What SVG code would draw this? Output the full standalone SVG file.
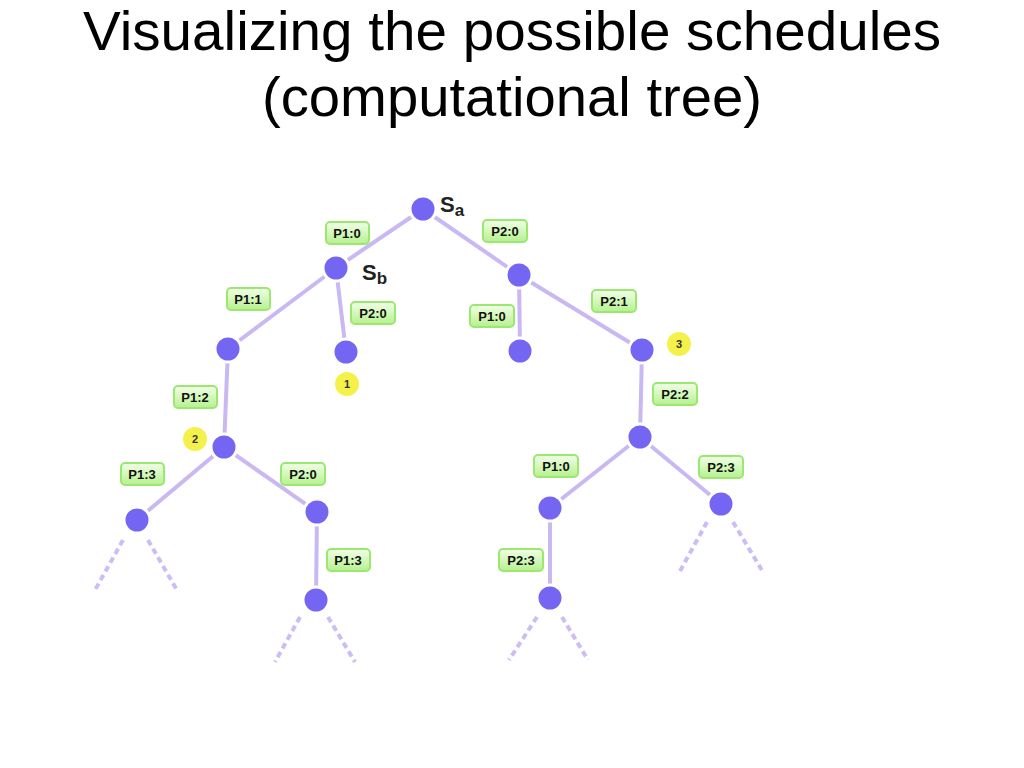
<svg xmlns="http://www.w3.org/2000/svg" width="1024" height="768" viewBox="0 0 1024 768">
<defs>
<linearGradient id="lg" x1="0" y1="0" x2="0" y2="1">
<stop offset="0" stop-color="#f2ffe8"/>
<stop offset="1" stop-color="#b6f08e"/>
</linearGradient>
</defs>
<style>
.title{font-family:"Liberation Sans",Arial,sans-serif;font-size:55px;fill:#000}
.edge{stroke:#c9b8f2;stroke-width:4;fill:none;stroke-linecap:butt}
.dash{stroke:#cdbdf4;stroke-width:4;fill:none;stroke-dasharray:6 4}
.node{fill:#7466f2;stroke:#fff;stroke-width:3}
.lbl rect{fill:url(#lg);stroke:#9ae870;stroke-width:2}
.lbl text{font-family:"Liberation Sans",Arial,sans-serif;font-size:13px;font-weight:bold;fill:#111;text-anchor:middle}
.mark circle{fill:#f4f24a}
.mark text{font-family:"Liberation Sans",Arial,sans-serif;font-size:11px;font-weight:bold;fill:#333;text-anchor:middle}
.st{font-family:"Liberation Sans",Arial,sans-serif;font-weight:bold;fill:#222}
</style>
<rect width="1024" height="768" fill="#fff"/>
<text class="title" x="512" y="50" text-anchor="middle" textLength="858" lengthAdjust="spacingAndGlyphs">Visualizing the possible schedules</text>
<text class="title" x="512" y="116" text-anchor="middle" textLength="500" lengthAdjust="spacingAndGlyphs">(computational tree)</text>

<g id="connectors">
<line class="edge" x1="423" y1="209" x2="336" y2="268"/>
<line class="edge" x1="423" y1="209" x2="519" y2="275"/>
<line class="edge" x1="336" y1="268" x2="228" y2="349"/>
<line class="edge" x1="336" y1="268" x2="346" y2="352"/>
<line class="edge" x1="228" y1="349" x2="224" y2="447"/>
<line class="edge" x1="224" y1="447" x2="137" y2="520"/>
<line class="edge" x1="224" y1="447" x2="317" y2="512"/>
<line class="edge" x1="317" y1="512" x2="316" y2="600"/>
<line class="edge" x1="519" y1="275" x2="520" y2="351"/>
<line class="edge" x1="519" y1="275" x2="642" y2="350"/>
<line class="edge" x1="642" y1="350" x2="640" y2="437"/>
<line class="edge" x1="640" y1="437" x2="550" y2="508"/>
<line class="edge" x1="640" y1="437" x2="721" y2="504"/>
<line class="edge" x1="550" y1="508" x2="550" y2="598"/>
<line class="dash" x1="123" y1="540" x2="95" y2="590"/>
<line class="dash" x1="148" y1="540" x2="178" y2="592"/>
<line class="dash" x1="300" y1="617" x2="275" y2="662"/>
<line class="dash" x1="328" y1="617" x2="355" y2="662"/>
<line class="dash" x1="707" y1="522" x2="679" y2="573"/>
<line class="dash" x1="733" y1="522" x2="763" y2="572"/>
<line class="dash" x1="537" y1="617" x2="509" y2="660"/>
<line class="dash" x1="562" y1="617" x2="588" y2="660"/>
</g>

<g id="nodeSa"><circle class="node" cx="423" cy="209" r="13"/><text class="st" x="440" y="212" font-size="22">S<tspan font-size="17" dy="4">a</tspan></text></g>
<g id="nodeSb"><circle class="node" cx="336" cy="268" r="13"/><text class="st" x="362" y="280" font-size="22">S<tspan font-size="17" dy="4">b</tspan></text></g>
<g id="nodeR"><circle class="node" cx="519" cy="275" r="13"/></g>
<g id="nodeL1"><circle class="node" cx="228" cy="349" r="13"/></g>
<g id="nodeB"><circle class="node" cx="346" cy="352" r="13"/></g>
<g id="nodeL2"><circle class="node" cx="224" cy="447" r="13"/></g>
<g id="nodeL3"><circle class="node" cx="137" cy="520" r="13"/></g>
<g id="nodeL4"><circle class="node" cx="317" cy="512" r="13"/></g>
<g id="nodeL5"><circle class="node" cx="316" cy="600" r="13"/></g>
<g id="nodeR1"><circle class="node" cx="520" cy="351" r="13"/></g>
<g id="nodeR2"><circle class="node" cx="642" cy="350" r="13"/></g>
<g id="nodeR3"><circle class="node" cx="640" cy="437" r="13"/></g>
<g id="nodeR4"><circle class="node" cx="550" cy="508" r="13"/></g>
<g id="nodeR5"><circle class="node" cx="721" cy="504" r="13"/></g>
<g id="nodeR6"><circle class="node" cx="550" cy="598" r="13"/></g>

<g id="mark1" class="mark"><circle cx="347" cy="384" r="12"/><text x="347" y="388">1</text></g>
<g id="mark2" class="mark"><circle cx="195" cy="439" r="12"/><text x="195" y="443">2</text></g>
<g id="mark3" class="mark"><circle cx="679" cy="344" r="12"/><text x="679" y="348">3</text></g>

<g id="lbl1" class="lbl"><rect x="326" y="222" width="43" height="22" rx="4"/><text x="347" y="238">P1:0</text></g>
<g id="lbl2" class="lbl"><rect x="483" y="220" width="44" height="22" rx="4"/><text x="505" y="236">P2:0</text></g>
<g id="lbl3" class="lbl"><rect x="227" y="288" width="43" height="22" rx="4"/><text x="248" y="304">P1:1</text></g>
<g id="lbl4" class="lbl"><rect x="351" y="302" width="44" height="22" rx="4"/><text x="373" y="318">P2:0</text></g>
<g id="lbl5" class="lbl"><rect x="470" y="305" width="44" height="22" rx="4"/><text x="492" y="321">P1:0</text></g>
<g id="lbl6" class="lbl"><rect x="592" y="290" width="44" height="22" rx="4"/><text x="614" y="306">P2:1</text></g>
<g id="lbl7" class="lbl"><rect x="174" y="386" width="43" height="22" rx="4"/><text x="195" y="402">P1:2</text></g>
<g id="lbl8" class="lbl"><rect x="653" y="383" width="44" height="22" rx="4"/><text x="675" y="399">P2:2</text></g>
<g id="lbl9" class="lbl"><rect x="121" y="463" width="43" height="22" rx="4"/><text x="142" y="479">P1:3</text></g>
<g id="lbl10" class="lbl"><rect x="281" y="463" width="44" height="22" rx="4"/><text x="303" y="479">P2:0</text></g>
<g id="lbl11" class="lbl"><rect x="327" y="549" width="43" height="22" rx="4"/><text x="348" y="565">P1:3</text></g>
<g id="lbl12" class="lbl"><rect x="534" y="455" width="44" height="22" rx="4"/><text x="556" y="471">P1:0</text></g>
<g id="lbl13" class="lbl"><rect x="699" y="456" width="44" height="22" rx="4"/><text x="721" y="472">P2:3</text></g>
<g id="lbl14" class="lbl"><rect x="499" y="549" width="44" height="22" rx="4"/><text x="521" y="565">P2:3</text></g>
</svg>
